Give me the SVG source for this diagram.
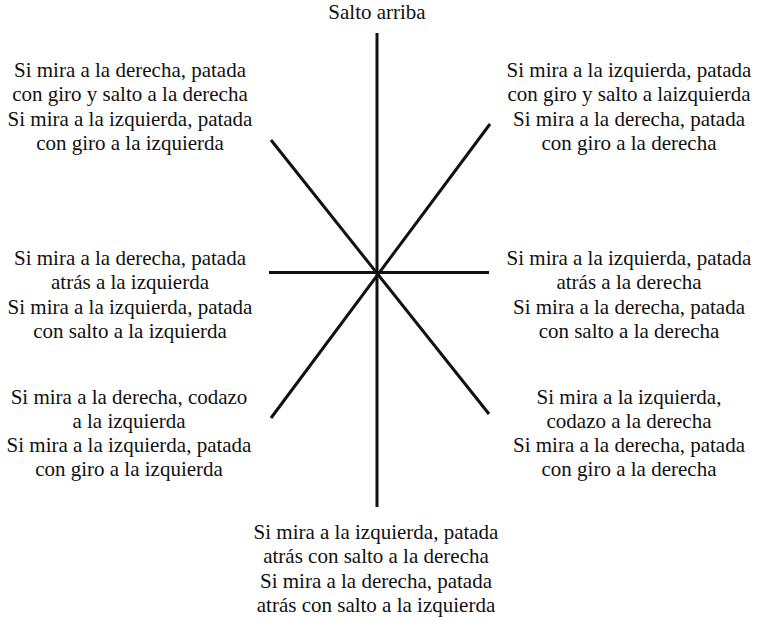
<svg xmlns="http://www.w3.org/2000/svg" width="761" height="620" viewBox="0 0 761 620">
<style>
text{font-size:21px;fill:#111;text-anchor:middle}
.ln{stroke:#111;stroke-width:3;fill:none;stroke-linecap:butt}
</style>
<rect width="761" height="620" fill="#fff"/>
<g id="connectors">
<line class="ln" x1="377" y1="33" x2="377" y2="507"/>
<line class="ln" x1="269" y1="272.5" x2="489" y2="272.5"/>
<line class="ln" x1="271" y1="140" x2="489" y2="414"/>
<line class="ln" x1="490" y1="124" x2="271" y2="418"/>
</g>
<g font-family="'Liberation Serif', 'DejaVu Serif', serif">
<g id="top"><text x="377" y="19">Salto arriba</text></g>
<g id="top-left">
<text x="130" y="77">Si mira a la derecha, patada</text>
<text x="130" y="101">con giro y salto a la derecha</text>
<text x="130" y="126">Si mira a la izquierda, patada</text>
<text x="130" y="150">con giro a la izquierda</text>
</g>
<g id="top-right">
<text x="629" y="77">Si mira a la izquierda, patada</text>
<text x="629" y="101">con giro y salto a laizquierda</text>
<text x="629" y="126">Si mira a la derecha, patada</text>
<text x="629" y="150">con giro a la derecha</text>
</g>
<g id="mid-left">
<text x="130" y="265">Si mira a la derecha, patada</text>
<text x="130" y="289">atrás a la izquierda</text>
<text x="130" y="314">Si mira a la izquierda, patada</text>
<text x="130" y="338">con salto a la izquierda</text>
</g>
<g id="mid-right">
<text x="629" y="265">Si mira a la izquierda, patada</text>
<text x="629" y="289">atrás a la derecha</text>
<text x="629" y="314">Si mira a la derecha, patada</text>
<text x="629" y="338">con salto a la derecha</text>
</g>
<g id="low-left">
<text x="129" y="404">Si mira a la derecha, codazo</text>
<text x="129" y="428">a la izquierda</text>
<text x="129" y="452">Si mira a la izquierda, patada</text>
<text x="129" y="476">con giro a la izquierda</text>
</g>
<g id="low-right">
<text x="629" y="404">Si mira a la izquierda,</text>
<text x="629" y="428">codazo a la derecha</text>
<text x="629" y="452">Si mira a la derecha, patada</text>
<text x="629" y="476">con giro a la derecha</text>
</g>
<g id="bottom">
<text x="376" y="539">Si mira a la izquierda, patada</text>
<text x="376" y="563">atrás con salto a la derecha</text>
<text x="376" y="588">Si mira a la derecha, patada</text>
<text x="376" y="612">atrás con salto a la izquierda</text>
</g>
</g>
</svg>
